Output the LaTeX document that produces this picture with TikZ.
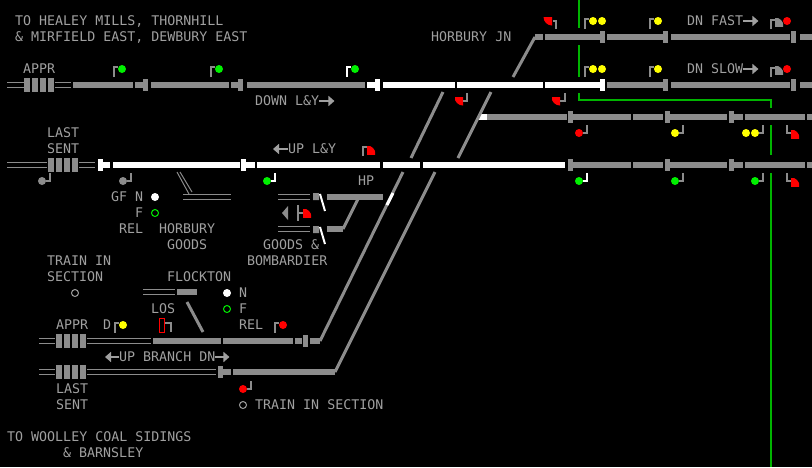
\documentclass[tikz,border=0pt]{standalone}
\usepackage{fontspec}
\newfontfamily\vdu{DejaVu Sans Mono}
\usetikzlibrary{arrows.meta}
\definecolor{trkgray}{HTML}{8C8C8C}
\definecolor{txtgray}{HTML}{A0A0A0}
\definecolor{wire}{HTML}{00B400}
\definecolor{lampgreen}{HTML}{00F000}
\definecolor{lampyellow}{HTML}{FFFF00}
\definecolor{lampred}{HTML}{FF0000}
\tikzset{
  trk/.style={draw=trkgray, line width=6pt},
  clr/.style={draw=white, line width=6pt},
  tcline/.style={draw=trkgray, line width=1pt},
  xover/.style={draw=trkgray, line width=3pt},
  post/.style={line width=2pt},
  wireline/.style={draw=wire, line width=2pt},
  lbl/.style={text=txtgray, font=\vdu\fontsize{13.3}{16}\selectfont, inner sep=0pt,
    text height=9.7pt, text depth=0pt, anchor=west},
  dirarr/.style={draw=txtgray, line width=2pt, -{Triangle[length=6pt,width=10pt]}}
}
\newcommand\jblock[3]{\fill[#3] (#1-2.5,#2-6) rectangle (#1+2.5,#2+6);}
\newcommand\tcbox[2]{\foreach \k in {0,...,3} \fill[trkgray] (#1+\k*8,#2-7) rectangle ++(6,14);}
\newcommand\tcdouble[3]{\draw[tcline] (#1,#3-2.5) -- (#2,#3-2.5) (#1,#3+2.5) -- (#2,#3+2.5);}
\newcommand\sigr[4]{%
  \draw[post, #3] (#1,#2+8) -- (#1,#2-2) -- (#1+4,#2-2);
  \edef\lamplist{#4}%
  \foreach[count=\k] \lamp in \lamplist \fill[\lamp] (#1+\k*9-1,#2) circle[radius=4pt];}
\newcommand\sigl[4]{%
  \draw[post, #3] (#1-4,#2) -- (#1,#2) -- (#1,#2-8);
  \edef\lamplist{#4}%
  \foreach[count=\k] \lamp in \lamplist \fill[\lamp] (#1+1-\k*9,#2) circle[radius=4pt];}
\newcommand\shunt[5]{\begin{scope}\clip (#1,#2) rectangle ++(#3,#4);
  \fill[#5] (#1,#2) circle[radius=8.5pt];\end{scope}}
\begin{document}
\begin{tikzpicture}[x=1pt,y=-1pt]
\useasboundingbox (0,0) rectangle (812,467);
\fill[black] (0,0) rectangle (812,467);
\draw[wireline] (579,0) -- (579,28) (579,45) -- (579,77);
\draw[wireline] (579,93) -- (579,100) -- (771,100) -- (771,108);
\draw[wireline] (771,125) -- (771,155) (771,173) -- (771,467);

\foreach \a/\b in {535/543,545/600,607/663,671/790,800/812}{
  \draw[trk] (\a,37) -- (\b,37);
}
\foreach \x in {602.5,665.5,793.5}{\jblock{\x}{37}{trkgray}}

\tcdouble{7}{24}{85} \tcbox{24}{85} \tcdouble{55}{71}{85}
\foreach \a/\b in {73/133,135/143,151/229,231/238,247/365,607/663,671/790,800/812}{
  \draw[trk] (\a,85) -- (\b,85);
}
\foreach \a/\b in {367/375,383/455,457/543,545/600}{
  \draw[clr] (\a,85) -- (\b,85);
}
\foreach \x/\col in {145.5/trkgray,240.5/trkgray,377.5/white,602.5/white,665.5/trkgray,793.5/trkgray}{
  \jblock{\x}{85}{\col}
}

\draw[clr] (479,117) -- (487,117);
\foreach \a/\b in {487/567,572/631,633/663,670/727,734/743,745/805,807/812}{
  \draw[trk] (\a,117) -- (\b,117);
}
\foreach \x in {570,667.5,731.5}{\jblock{\x}{117}{trkgray}}

\tcdouble{7}{47}{165} \tcbox{48}{165} \tcdouble{79}{95}{165}
\foreach \a/\b in {103/110,113/240,246/255,257/380,383/420,423/565}{
  \draw[clr] (\a,165) -- (\b,165);
}
\foreach \a/\b in {573/631,633/663,670/727,734/743,745/805,807/812}{
  \draw[trk] (\a,165) -- (\b,165);
}
\foreach \x/\col in {100/white,243/white,570/trkgray,667.5/trkgray,731.5/trkgray}{
  \jblock{\x}{165}{\col}
}

\tcdouble{39}{55}{341} \tcbox{56}{341} \tcdouble{87}{151}{341}
\foreach \a/\b in {153/221,223/293,295/302,310/320}{
  \draw[trk] (\a,341) -- (\b,341);
}
\jblock{305.5}{341}{trkgray}
\tcdouble{39}{55}{372} \tcbox{56}{372} \tcdouble{87}{216}{372}
\draw[trk] (223,372) -- (231,372) (233,372) -- (335,372);
\jblock{220}{372}{trkgray}

\draw[xover] (513,77) -- (535,37);
\draw[xover] (443,92) -- (411,158) (403,172) -- (320,341);
\draw[xover] (491,92) -- (458,158) (435,172) -- (335,372);
\draw[draw=white, line width=3pt] (393,193) -- (387,205);

\tcdouble{278}{310}{196.5} \tcdouble{278}{310}{228.5}
\fill[trkgray] (313,193) rectangle (319,200) (313,226) rectangle (319,233);
\draw[draw=white, line width=2pt] (320,194) -- (325,211) (320,227) -- (325,244);
\draw[trk] (327,197) -- (383,197) (327,229) -- (343,229);
\draw[xover] (358,199) -- (343,229);
\fill[trkgray] (282,213) -- (288,206) -- (288,220) -- cycle;
\draw[post, trkgray] (298,205) -- (298,221) (298,213) -- (303,213);
\shunt{303}{217}{8}{-8}{lampred}

\tcdouble{183}{231}{196.5}
\draw[tcline] (177,172) -- (189,194) (180,172) -- (192,192);
\tcdouble{143}{175}{292}
\draw[trk] (177,292) -- (197,292);
\draw[xover] (187,302) -- (203,332);
\draw[lampred, line width=1pt] (159.5,318.5) rectangle (164.5,332);
\draw[post, trkgray] (165,323) -- (171,323) -- (171,332);

\foreach \x/\y/\pc/\lamps in {114/69/trkgray/lampgreen, 211/69/trkgray/lampgreen,
    347/69/white/lampgreen, 585/21/trkgray/{lampyellow,lampyellow}, 650/21/trkgray/lampyellow,
    585/69/trkgray/{lampyellow,lampyellow}, 650/69/trkgray/lampyellow,
    115/325/trkgray/lampyellow, 275/325/trkgray/lampred}{
  \sigr{\x}{\y}{\pc}{\lamps}
}
\foreach \x/\y/\pc/\lamps in {50/181/trkgray/trkgray, 131/181/trkgray/trkgray, 275/181/white/lampgreen,
    587/133/trkgray/lampred, 587/181/white/lampgreen, 683/133/trkgray/lampyellow,
    683/181/trkgray/lampgreen, 763/133/trkgray/{lampyellow,lampyellow},
    763/181/trkgray/lampgreen, 251/389/trkgray/lampred}{
  \sigl{\x}{\y}{\pc}{\lamps}
}

\shunt{552}{17}{-9}{9}{lampred}
\draw[post, trkgray] (553,21) -- (556,21) -- (556,29);
\shunt{463}{97}{-8}{8}{lampred}
\draw[post, trkgray] (463,101) -- (467,101) -- (467,93);
\shunt{560}{97}{-8}{8}{lampred}
\draw[post, trkgray] (560,101) -- (565,101) -- (565,93);
\shunt{367}{154}{8}{-8}{lampred}
\draw[post, trkgray] (363,156) -- (363,147) -- (367,147);
\foreach \y in {133,181}{
  \shunt{791}{\y+5}{8}{-8}{lampred}
  \draw[post, trkgray] (787,\y-8) -- (787,\y) -- (791,\y);
}
\foreach \y in {21,69}{
  \shunt{775}{\y+5}{8}{-8}{trkgray}
  \draw[post, trkgray] (771,\y+8) -- (771,\y-1) -- (775,\y-1);
  \fill[lampred] (787,\y) circle[radius=4pt];
}

\fill[white] (155,197) circle[radius=4pt] (227,293) circle[radius=4pt];
\draw[lampgreen, line width=1pt] (155,213) circle[radius=3.5pt] (227,309) circle[radius=3.5pt];
\draw[txtgray, line width=1pt] (75,293) circle[radius=3.5pt] (243,405) circle[radius=3.5pt];

\node[lbl] (healey) at (15,21) {TO HEALEY MILLS, THORNHILL};
\node[lbl] (mirfield) at (15,37) {\& MIRFIELD EAST, DEWBURY EAST};
\node[lbl] (horburyjn) at (431,37) {HORBURY JN};
\node[lbl] (dnfast) at (687,21) {DN FAST};
\node[lbl] (dnslow) at (687,69) {DN SLOW};
\node[lbl] (apprdn) at (23,69) {APPR};
\node[lbl] (downly) at (255,101) {DOWN L\&Y};
\node[lbl] (lastup) at (47,133) {LAST};
\node[lbl] (sentup) at (47,149) {SENT};
\node[lbl] (uply) at (288,149) {UP L\&Y};
\node[lbl] (hp) at (358,181) {HP};
\node[lbl] (gfn) at (111,197) {GF N};
\node[lbl] (gff) at (135,213) {F};
\node[lbl] (gfrel) at (119,229) {REL};
\node[lbl] (horbury) at (159,229) {HORBURY};
\node[lbl] (goods) at (167,245) {GOODS};
\node[lbl] (gdsamp) at (263,245) {GOODS \&};
\node[lbl] (bombardier) at (247,261) {BOMBARDIER};
\node[lbl] (trainin) at (47,261) {TRAIN IN};
\node[lbl] (section) at (47,277) {SECTION};
\node[lbl] (flockton) at (167,277) {FLOCKTON};
\node[lbl] (flkn) at (239,293) {N};
\node[lbl] (flkf) at (239,309) {F};
\node[lbl] (flkrel) at (239,325) {REL};
\node[lbl] (los) at (151,309) {LOS};
\node[lbl] (apprbr) at (56,325) {APPR};
\node[lbl] (dbr) at (103,325) {D};
\node[lbl] (upbranch) at (119,357) {UP BRANCH DN};
\node[lbl] (lastbr) at (56,389) {LAST};
\node[lbl] (sentbr) at (56,405) {SENT};
\node[lbl] (tisbr) at (255,405) {TRAIN IN SECTION};
\node[lbl] (woolley) at (7,437) {TO WOOLLEY COAL SIDINGS};
\node[lbl] (barnsley) at (63,453) {\& BARNSLEY};

\draw[dirarr] (dnfast.east) -- ++(15,0);
\draw[dirarr] (dnslow.east) -- ++(15,0);
\draw[dirarr] (downly.east) -- ++(15,0);
\draw[dirarr] (uply.west) -- ++(-15,0);
\draw[dirarr] (upbranch.west) -- ++(-14,0);
\draw[dirarr] (upbranch.east) -- ++(14,0);
\end{tikzpicture}
\end{document}
